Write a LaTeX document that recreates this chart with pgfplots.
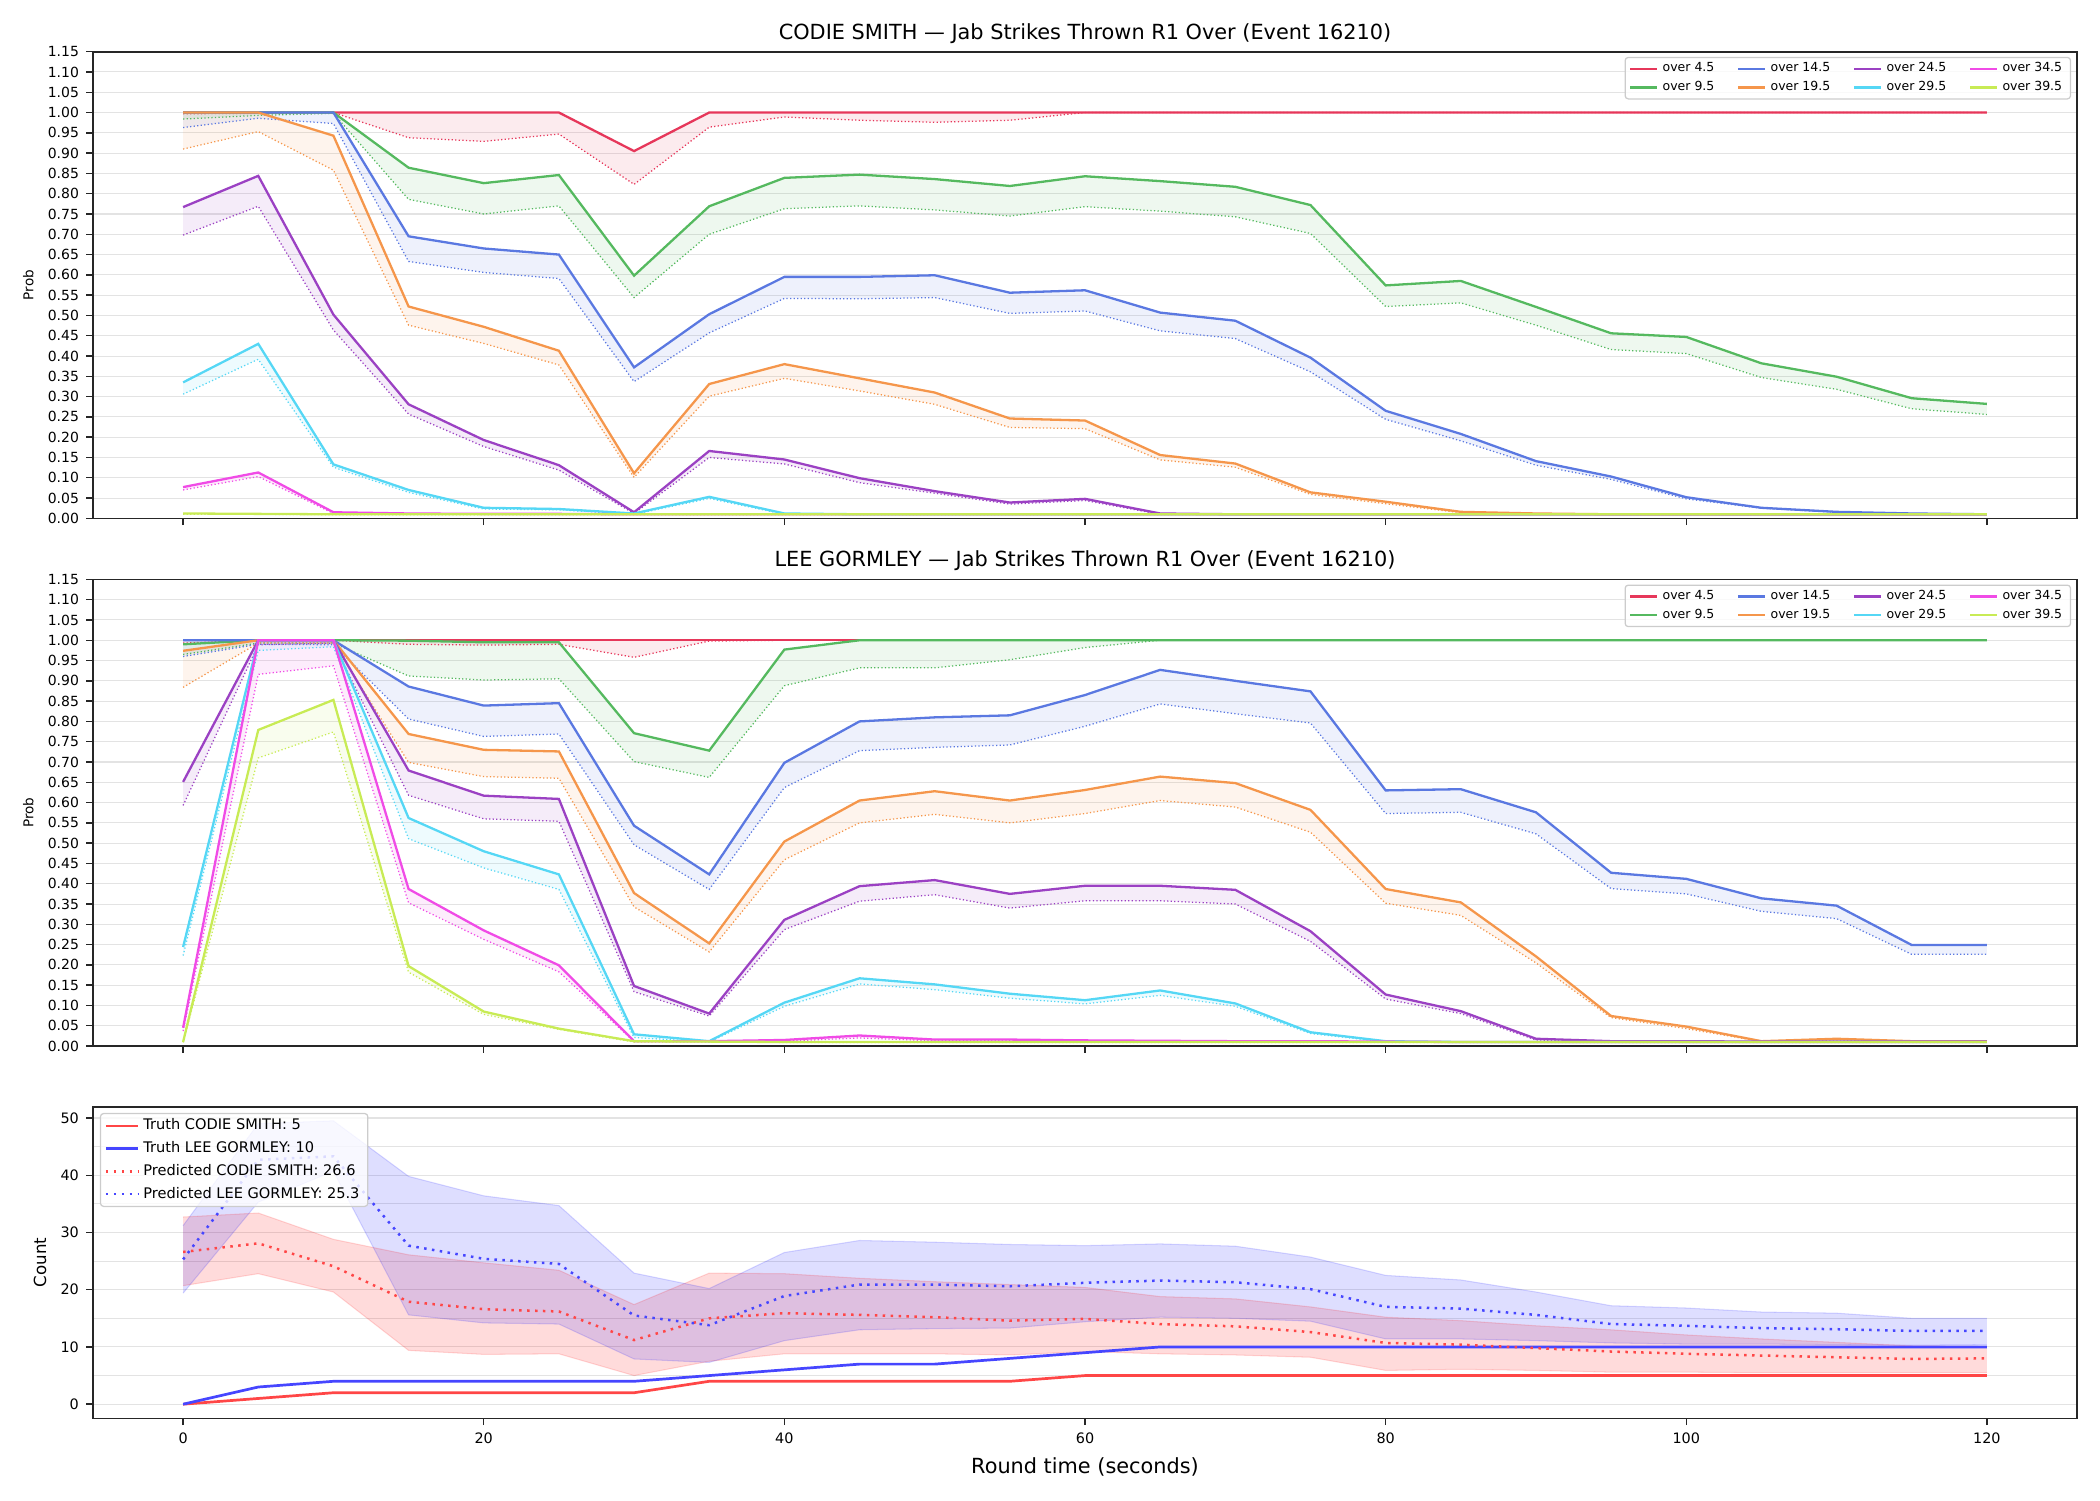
\documentclass[border=0pt]{standalone}
\usepackage{fontspec}
\setmainfont{DejaVu Sans}
\usepackage{pgfplots}
\usepackage{pgfplotstable}
\pgfplotsset{compat=1.18}
\usepgfplotslibrary{fillbetween}

\definecolor{c4}{RGB}{230,55,90}
\definecolor{c9}{RGB}{85,185,95}
\definecolor{c14}{RGB}{90,120,225}
\definecolor{c19}{RGB}{245,150,75}
\definecolor{c24}{RGB}{155,65,195}
\definecolor{c29}{RGB}{85,215,245}
\definecolor{c34}{RGB}{240,75,230}
\definecolor{c39}{RGB}{200,235,85}
\definecolor{tred}{RGB}{255,70,70}
\definecolor{tblue}{RGB}{70,70,255}

\pgfplotstableread{
x   a4s   a4d   a9s   a9d   a14s  a14d  a19s  a19d  a24s  a24d  a29s  a29d  a34s  a34d  a39s  a39d
0   1.000 0.997 1.000 0.984 1.000 0.963 1.000 0.910 0.767 0.698 0.335 0.306 0.077 0.070 0.012 0.010
5   1.000 0.998 1.000 0.993 1.000 0.986 1.000 0.953 0.844 0.769 0.430 0.392 0.113 0.103 0.011 0.010
10  1.000 1.000 1.000 0.998 1.000 0.973 0.943 0.858 0.502 0.464 0.133 0.126 0.015 0.012 0.010 0.009
15  1.000 0.938 0.864 0.786 0.695 0.633 0.522 0.476 0.281 0.257 0.070 0.064 0.012 0.010 0.010 0.009
20  1.000 0.929 0.826 0.750 0.665 0.606 0.472 0.431 0.193 0.177 0.026 0.023 0.011 0.010 0.010 0.009
25  1.000 0.947 0.846 0.770 0.650 0.591 0.413 0.378 0.131 0.119 0.023 0.021 0.011 0.010 0.010 0.009
30  0.905 0.823 0.598 0.544 0.372 0.337 0.111 0.101 0.015 0.012 0.012 0.010 0.010 0.010 0.010 0.009
35  1.000 0.964 0.769 0.700 0.503 0.457 0.331 0.301 0.166 0.150 0.053 0.049 0.010 0.010 0.010 0.009
40  1.000 0.989 0.839 0.763 0.595 0.542 0.380 0.345 0.145 0.134 0.012 0.010 0.010 0.010 0.010 0.009
45  1.000 0.981 0.847 0.770 0.595 0.541 0.345 0.314 0.099 0.088 0.010 0.010 0.010 0.010 0.010 0.009
50  1.000 0.976 0.836 0.760 0.599 0.544 0.310 0.281 0.067 0.062 0.010 0.010 0.010 0.010 0.010 0.009
55  1.000 0.981 0.819 0.745 0.556 0.505 0.246 0.224 0.039 0.035 0.010 0.010 0.010 0.010 0.010 0.009
60  1.000 1.000 0.843 0.768 0.562 0.511 0.241 0.221 0.048 0.044 0.010 0.010 0.010 0.010 0.010 0.009
65  1.000 1.000 0.831 0.757 0.507 0.462 0.156 0.144 0.012 0.010 0.010 0.010 0.010 0.010 0.010 0.009
70  1.000 1.000 0.817 0.743 0.487 0.443 0.135 0.126 0.010 0.010 0.010 0.010 0.010 0.010 0.010 0.009
75  1.000 1.000 0.772 0.702 0.396 0.361 0.064 0.059 0.010 0.010 0.010 0.010 0.010 0.010 0.010 0.009
80  1.000 1.000 0.574 0.522 0.265 0.244 0.041 0.036 0.010 0.010 0.010 0.010 0.010 0.010 0.010 0.009
85  1.000 1.000 0.585 0.531 0.208 0.191 0.016 0.014 0.010 0.010 0.010 0.010 0.010 0.010 0.010 0.009
90  1.000 1.000 0.521 0.476 0.141 0.131 0.012 0.010 0.010 0.010 0.010 0.010 0.010 0.010 0.010 0.009
95  1.000 1.000 0.456 0.416 0.103 0.096 0.010 0.010 0.010 0.010 0.010 0.010 0.010 0.010 0.010 0.009
100 1.000 1.000 0.447 0.406 0.052 0.048 0.010 0.010 0.010 0.010 0.010 0.010 0.010 0.010 0.010 0.009
105 1.000 1.000 0.382 0.347 0.026 0.025 0.010 0.010 0.010 0.010 0.010 0.010 0.010 0.010 0.010 0.009
110 1.000 1.000 0.349 0.318 0.016 0.015 0.010 0.010 0.010 0.010 0.010 0.010 0.010 0.010 0.010 0.009
115 1.000 1.000 0.296 0.270 0.012 0.011 0.010 0.010 0.010 0.010 0.010 0.010 0.010 0.010 0.010 0.009
120 1.000 1.000 0.282 0.256 0.010 0.010 0.010 0.010 0.010 0.010 0.010 0.010 0.010 0.010 0.010 0.009
}\topdata

\pgfplotstableread{
x   b4s   b4d   b9s   b9d   b14s  b14d  b19s  b19d  b24s  b24d  b29s  b29d  b34s  b34d  b39s  b39d
0   1.000 0.993 0.990 0.965 1.000 0.960 0.974 0.884 0.651 0.593 0.244 0.223 0.045 0.037 0.010 0.009
5   1.000 1.000 1.000 0.993 1.000 0.990 1.000 0.993 1.000 0.989 1.000 0.975 1.000 0.916 0.779 0.710
10  1.000 1.000 1.000 0.993 1.000 0.989 1.000 0.993 1.000 0.993 1.000 0.984 1.000 0.937 0.853 0.774
15  1.000 0.990 0.999 0.912 0.886 0.806 0.769 0.699 0.679 0.618 0.562 0.511 0.387 0.353 0.197 0.182
20  1.000 0.988 0.995 0.902 0.839 0.763 0.730 0.664 0.617 0.560 0.480 0.439 0.285 0.263 0.085 0.078
25  1.000 0.990 0.995 0.905 0.845 0.769 0.726 0.660 0.609 0.554 0.423 0.386 0.199 0.183 0.043 0.041
30  1.000 0.958 0.771 0.701 0.543 0.496 0.377 0.343 0.148 0.134 0.029 0.021 0.012 0.011 0.012 0.010
35  1.000 0.998 0.728 0.662 0.423 0.386 0.253 0.232 0.080 0.074 0.012 0.010 0.012 0.011 0.011 0.010
40  1.000 1.000 0.977 0.888 0.698 0.637 0.504 0.459 0.311 0.287 0.107 0.098 0.015 0.012 0.010 0.009
45  1.000 1.000 1.000 0.932 0.800 0.728 0.605 0.550 0.394 0.357 0.167 0.153 0.026 0.020 0.010 0.009
50  1.000 1.000 1.000 0.932 0.810 0.736 0.628 0.571 0.409 0.373 0.152 0.139 0.016 0.013 0.010 0.009
55  1.000 1.000 1.000 0.952 0.815 0.742 0.605 0.550 0.375 0.340 0.129 0.118 0.016 0.013 0.010 0.009
60  1.000 1.000 1.000 0.982 0.865 0.788 0.631 0.573 0.395 0.358 0.113 0.104 0.014 0.012 0.010 0.009
65  1.000 1.000 1.000 1.000 0.927 0.843 0.664 0.605 0.395 0.358 0.137 0.125 0.013 0.011 0.010 0.009
70  1.000 1.000 1.000 1.000 0.900 0.819 0.648 0.589 0.385 0.350 0.105 0.098 0.012 0.011 0.010 0.009
75  1.000 1.000 1.000 1.000 0.874 0.796 0.582 0.527 0.283 0.258 0.034 0.031 0.012 0.011 0.010 0.009
80  1.000 1.000 1.000 1.000 0.630 0.573 0.387 0.352 0.127 0.116 0.012 0.010 0.011 0.010 0.010 0.009
85  1.000 1.000 1.000 1.000 0.633 0.576 0.354 0.322 0.086 0.080 0.010 0.010 0.010 0.010 0.010 0.009
90  1.000 1.000 1.000 1.000 0.576 0.523 0.221 0.205 0.018 0.015 0.010 0.010 0.010 0.010 0.010 0.009
95  1.000 1.000 1.000 1.000 0.427 0.388 0.074 0.070 0.012 0.011 0.010 0.010 0.010 0.010 0.010 0.009
100 1.000 1.000 1.000 1.000 0.412 0.375 0.048 0.043 0.012 0.011 0.010 0.010 0.010 0.010 0.010 0.009
105 1.000 1.000 1.000 1.000 0.364 0.332 0.012 0.011 0.011 0.010 0.010 0.010 0.010 0.010 0.010 0.009
110 1.000 1.000 1.000 1.000 0.346 0.314 0.018 0.015 0.011 0.010 0.010 0.010 0.010 0.010 0.010 0.009
115 1.000 1.000 1.000 1.000 0.249 0.226 0.012 0.011 0.011 0.010 0.010 0.010 0.010 0.010 0.010 0.009
120 1.000 1.000 1.000 1.000 0.249 0.226 0.012 0.011 0.011 0.010 0.010 0.010 0.010 0.010 0.010 0.009
}\middata

\pgfplotstableread{
x   tA tB pA   pB   aLo  aHi  bLo  bHi
0   0  0  26.6 25.3 20.7 32.7 19.4 31.2
5   1  3  28.1 42.7 22.8 33.4 35.3 49.0
10  2  4  24.1 43.3 19.6 28.8 40.7 49.5
15  2  4  17.9 27.7 9.4  26.1 15.6 39.8
20  2  4  16.6 25.4 8.7  24.7 14.2 36.4
25  2  4  16.2 24.5 8.8  23.4 14.0 34.7
30  2  4  11.2 15.5 5.0  17.4 7.9  22.9
35  4  5  15.0 13.8 7.5  22.9 7.3  20.2
40  4  6  15.9 18.9 8.8  22.8 11.1 26.5
45  4  7  15.6 20.9 8.8  22.0 13.0 28.6
50  4  7  15.2 20.9 8.8  21.4 13.2 28.3
55  4  8  14.6 20.6 8.6  20.9 13.3 27.9
60  5  9  14.9 21.2 9.2  20.4 14.4 27.7
65  5  10 14.0 21.6 8.8  18.8 15.2 28.0
70  5  10 13.6 21.3 8.6  18.4 15.0 27.6
75  5  10 12.6 20.1 8.2  17.0 14.5 25.7
80  5  10 10.7 17.0 5.9  15.2 11.4 22.5
85  5  10 10.4 16.7 6.1  14.6 11.4 21.7
90  5  10 9.8  15.6 5.9  13.7 11.1 19.6
95  5  10 9.2  14.0 5.6  13.0 10.7 17.2
100 5  10 8.8  13.7 5.6  12.1 10.5 16.8
105 5  10 8.5  13.3 5.5  11.4 10.5 16.1
110 5  10 8.2  13.1 5.5  10.8 10.4 15.9
115 5  10 7.9  12.8 5.5  10.2 10.3 15.0
120 5  10 8.0  12.8 5.5  10.1 10.4 15.0
}\botdata

\newcommand{\band}[4]{%
  \addplot[#4, line width=1.1pt, name path=#2, forget plot] table[x=x,y=#2]{#1};
  \addplot[#4, line width=0.6pt, dash pattern=on 0.6pt off 1.1pt, name path=#3, forget plot] table[x=x,y=#3]{#1};
  \addplot[fill=#4, fill opacity=0.1, draw=none, forget plot] fill between[of=#2 and #3];
}

\newcommand{\overlegend}{%
  \addlegendimage{c4}\addlegendentry{over 4.5}
  \addlegendimage{c14}\addlegendentry{over 14.5}
  \addlegendimage{c24}\addlegendentry{over 24.5}
  \addlegendimage{c34}\addlegendentry{over 34.5}
  \addlegendimage{c9}\addlegendentry{over 9.5}
  \addlegendimage{c19}\addlegendentry{over 19.5}
  \addlegendimage{c29}\addlegendentry{over 29.5}
  \addlegendimage{c39}\addlegendentry{over 39.5}
}

\pgfplotsset{
  panel/.style={
    scale only axis, width=952.4pt,
    xmin=-6, xmax=126, xtick={0,20,40,60,80,100,120},
    tick pos=left, tick align=outside, major tick length=3.2pt,
    axis line style={black!85, line width=0.8pt},
    tick style={black!85, line width=0.7pt},
    ymajorgrids, grid style={black!11, line width=0.5pt},
    tick label style={font=\fontsize{6.7}{8}\selectfont},
    /pgf/number format/assume math mode=true,
    title style={font=\fontsize{10}{12}\selectfont, yshift=-5.5pt},
  },
  prob/.style={
    panel, height=224pt, ymin=0, ymax=1.15,
    ytick={0,0.05,0.1,0.15,0.2,0.25,0.3,0.35,0.4,0.45,0.5,0.55,0.6,0.65,0.7,0.75,0.8,0.85,0.9,0.95,1,1.05,1.1,1.15},
    yticklabel style={/pgf/number format/.cd, fixed, fixed zerofill, precision=2},
    xticklabels={},
    ylabel={Prob}, ylabel style={font=\fontsize{6.5}{8}\selectfont},
    legend columns=4, legend cell align=left,
    legend image code/.code={\draw[#1, line width=1.1pt] (0pt,0pt) -- (12.9pt,0pt);},
    legend style={at={(0.997,0.989)}, anchor=north east,
      font=\fontsize{6}{7}\selectfont, draw=black!20, line width=0.6pt,
      rounded corners=1.5pt, fill=white, fill opacity=0.8, text opacity=1,
      inner xsep=2pt, inner ysep=1.8pt, row sep=1.6pt,
      nodes={inner ysep=0.7pt},
      /tikz/every even column/.append style={column sep=9pt}},
  },
}

\begin{document}
\begin{tikzpicture}
\path (0,0) rectangle (1008pt,-720pt);

% ---------- top panel ----------
\begin{axis}[prob, at={(44.6pt,-24.8pt)}, anchor=north west,
  title={CODIE SMITH — Jab Strikes Thrown R1 Over (Event 16210)}]
\band{\topdata}{a4s}{a4d}{c4}
\band{\topdata}{a9s}{a9d}{c9}
\band{\topdata}{a14s}{a14d}{c14}
\band{\topdata}{a19s}{a19d}{c19}
\band{\topdata}{a24s}{a24d}{c24}
\band{\topdata}{a29s}{a29d}{c29}
\band{\topdata}{a34s}{a34d}{c34}
\band{\topdata}{a39s}{a39d}{c39}
\overlegend
\end{axis}

% ---------- middle panel ----------
\begin{axis}[prob, at={(44.6pt,-278.1pt)}, anchor=north west,
  title={LEE GORMLEY — Jab Strikes Thrown R1 Over (Event 16210)}]
\band{\middata}{b4s}{b4d}{c4}
\band{\middata}{b9s}{b9d}{c9}
\band{\middata}{b14s}{b14d}{c14}
\band{\middata}{b19s}{b19d}{c19}
\band{\middata}{b24s}{b24d}{c24}
\band{\middata}{b29s}{b29d}{c29}
\band{\middata}{b34s}{b34d}{c34}
\band{\middata}{b39s}{b39d}{c39}
\overlegend
\end{axis}

% ---------- bottom panel ----------
\begin{axis}[panel, at={(44.6pt,-531.2pt)}, anchor=north west,
  height=149.6pt, ymin=-2.475, ymax=51.975,
  ytick={0,10,20,30,40,50}, minor ytick={5,15,25,35,45}, yminorgrids,
  minor tick length=0pt,
  xticklabel style={font=\fontsize{6.9}{8}\selectfont},
  yticklabel style={font=\fontsize{6.9}{8}\selectfont},
  xlabel={Round time (seconds)}, xlabel style={font=\fontsize{10}{12}\selectfont},
  ylabel={Count}, ylabel style={font=\fontsize{8}{9}\selectfont},
  legend cell align=left,
  legend image code/.code={\draw[#1] (0pt,0pt) -- (15.3pt,0pt);},
  legend style={at={(0.0035,0.98)}, anchor=north west,
    font=\fontsize{7}{8}\selectfont, draw=black!20, line width=0.6pt,
    rounded corners=1.5pt, fill=white, fill opacity=0.8, text opacity=1,
    inner xsep=2pt, inner ysep=1.8pt, row sep=2.7pt,
    nodes={inner ysep=0.7pt}},
]
\addplot[name path=aLo, draw=red, draw opacity=0.15, line width=0.5pt, forget plot] table[x=x,y=aLo]{\botdata};
\addplot[name path=aHi, draw=red, draw opacity=0.15, line width=0.5pt, forget plot] table[x=x,y=aHi]{\botdata};
\addplot[fill=red, fill opacity=0.14, draw=none, forget plot] fill between[of=aLo and aHi];
\addplot[name path=bLo, draw=blue, draw opacity=0.15, line width=0.5pt, forget plot] table[x=x,y=bLo]{\botdata};
\addplot[name path=bHi, draw=blue, draw opacity=0.15, line width=0.5pt, forget plot] table[x=x,y=bHi]{\botdata};
\addplot[fill=blue, fill opacity=0.13, draw=none, forget plot] fill between[of=bLo and bHi];

\addplot[tred, line width=1.3pt] table[x=x,y=tA]{\botdata};
\addlegendentry{Truth CODIE SMITH: 5}
\addplot[tblue, line width=1.3pt] table[x=x,y=tB]{\botdata};
\addlegendentry{Truth LEE GORMLEY: 10}
\addplot[tred, line width=1.2pt, dash pattern=on 1.2pt off 2.6pt] table[x=x,y=pA]{\botdata};
\addlegendentry{Predicted CODIE SMITH: 26.6}
\addplot[tblue, line width=1.2pt, dash pattern=on 1.2pt off 2.6pt] table[x=x,y=pB]{\botdata};
\addlegendentry{Predicted LEE GORMLEY: 25.3}
\end{axis}
\end{tikzpicture}
\end{document}
